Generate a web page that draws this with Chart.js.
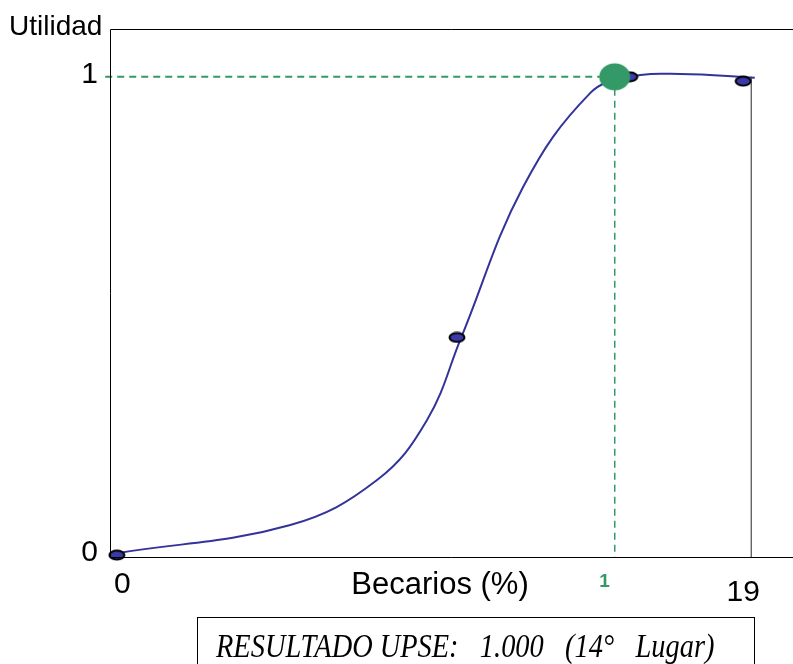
<!DOCTYPE html>
<html>
<head>
<meta charset="utf-8">
<script src="https://cdn.jsdelivr.net/npm/chart.js@4/dist/chart.umd.min.js"></script>
<style>
  body { margin: 0; background: #fff; }
  #wrap { position: relative; width: 793px; height: 664px; overflow: hidden; }
  #result {
    position: absolute; left: 197px; top: 617px; width: 558px; height: 60px;
    border: 1.5px solid #000; box-sizing: border-box;
    padding: 9px 0 0 18px;
  }
  #result span {
    display: inline-block; white-space: pre; transform: scaleX(0.835); transform-origin: left top;
    font-family: "Liberation Serif", serif; font-style: italic; font-size: 34px; line-height: 38px;
  }
</style>
</head>
<body>
<div id="wrap">
  <canvas id="utilChart" width="793" height="664"></canvas>
  <div id="result"><span>RESULTADO UPSE:   1.000   (14°   Lugar)</span></div>
</div>
<script>
// curve (x in % of axis width, y = utility)
const curveX = [1.0, 26.4, 39.1, 46.4, 51.4, 60.5, 70.3, 76.1, 83.5, 94.4];
const curveY = [0.004, 0.063, 0.157, 0.282, 0.454, 0.770, 0.966, 1.0, 1.006, 0.998];

// marked points on the curve
const markX = [1.0, 50.8, 76.1, 92.7];
const markY = [0.0, 0.455, 1.0, 0.991];

// result point
const resultX = 73.9;
const resultY = 1.0;

// max reference line
const maxX = 93.9;

// tick labels
const xTickPos = [1.8, 72.4, 92.7];
const xTickLabels = ['0', '1', '19'];
const yTickPos = [0, 1];
const yTickLabels = ['0', '1'];

function ellipse(w, h, fill, stroke) {
    const c = document.createElement('canvas');
    c.width = w; c.height = h;
    const g = c.getContext('2d');
    g.beginPath();
    g.ellipse(w / 2, h / 2, w / 2 - 1.5, h / 2 - 1.5, 0, 0, Math.PI * 2);
    g.fillStyle = fill;
    g.fill();
    if (stroke) { g.lineWidth = 2; g.strokeStyle = stroke; g.stroke(); }
    return c;
}
const blueDot = ellipse(18, 12, '#3a3aa8', '#000');
const greenDot = ellipse(34, 30, '#339966', null);

const green = '#339966';
const sans = '"Liberation Sans", Arial, sans-serif';

const frame = {
    id: 'frame',
    afterDraw(chart) {
        const ctx = chart.ctx, a = chart.chartArea;
        const sx = chart.scales.x, sy = chart.scales.y;
        ctx.save();
        ctx.strokeStyle = '#000';
        ctx.lineWidth = 1;
        ctx.beginPath();
        ctx.moveTo(a.right, a.top + 0.5); ctx.lineTo(a.left + 0.5, a.top + 0.5);
        ctx.lineTo(a.left + 0.5, a.bottom + 0.5); ctx.lineTo(a.right, a.bottom + 0.5);
        ctx.stroke();

        ctx.fillStyle = '#000';
        ctx.font = '28px ' + sans;
        ctx.textBaseline = 'alphabetic';
        ctx.textAlign = 'left';
        ctx.fillText('Utilidad', 9, 35);

        ctx.font = '30px ' + sans;
        ctx.textAlign = 'right';
        ctx.textBaseline = 'middle';
        yTickPos.forEach((v, i) => ctx.fillText(yTickLabels[i], 98, sy.getPixelForValue(v) - 2));

        ctx.textAlign = 'center';
        xTickPos.forEach((v, i) => {
            const px = sx.getPixelForValue(v);
            if (xTickLabels[i] === '1') {
                ctx.fillStyle = green;
                ctx.font = 'bold 19px ' + sans;
                ctx.fillText(xTickLabels[i], px, 582);
            } else {
                ctx.fillStyle = '#000';
                ctx.font = '30px ' + sans;
                ctx.fillText(xTickLabels[i], px, i === 0 ? 585 : 593);
            }
        });
        ctx.fillStyle = '#000';
        ctx.font = '31px ' + sans;
        ctx.fillText('Becarios (%)', 440, 585);
        ctx.restore();
    }
};

new Chart(document.getElementById('utilChart'), {
    type: 'scatter',
    data: {
        datasets: [
            {
                data: [{ x: resultX, y: resultY }],
                pointStyle: greenDot, pointRadius: 15, showLine: false
            },
            {
                data: markX.map((x, i) => ({ x: x, y: markY[i] })),
                pointStyle: blueDot, pointRadius: 8, showLine: false, clip: false
            },
            {
                data: [{ x: -0.7, y: resultY }, { x: resultX, y: resultY }],
                showLine: true, borderColor: green, borderWidth: 2, borderDash: [7, 5],
                pointRadius: 0, clip: false
            },
            {
                data: [{ x: resultX, y: resultY }, { x: resultX, y: -0.004 }],
                showLine: true, borderColor: green, borderWidth: 1.5, borderDash: [7, 5],
                pointRadius: 0
            },
            {
                data: curveX.map((x, i) => ({ x: x, y: curveY[i] })),
                showLine: true, borderColor: '#33339a', borderWidth: 2,
                tension: 0.4, pointRadius: 0, clip: false
            },
            {
                data: [{ x: maxX, y: 1.0 }, { x: maxX, y: -0.004 }],
                showLine: true, borderColor: '#666', borderWidth: 1, pointRadius: 0
            }
        ]
    },
    options: {
        responsive: false,
        animation: false,
        layout: { autoPadding: false, padding: { left: 110, top: 29, right: 0, bottom: 107 } },
        plugins: { legend: { display: false }, tooltip: { enabled: false } },
        scales: {
            x: { type: 'linear', min: 0, max: 100, display: false },
            y: { type: 'linear', min: -0.004, max: 1.1, display: false }
        }
    },
    plugins: [frame]
});
</script>
</body>
</html>
